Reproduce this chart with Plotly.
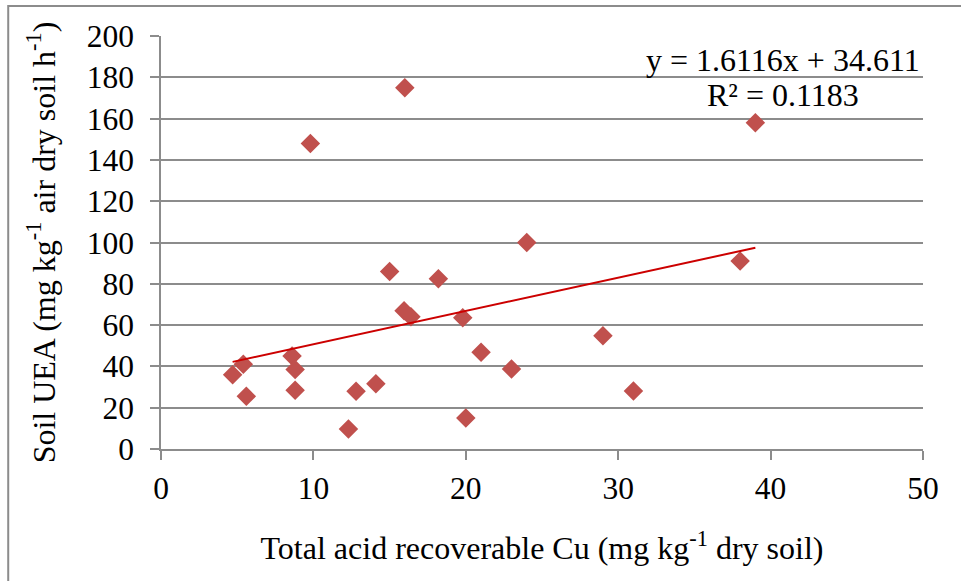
import plotly.graph_objects as go

# Data
cu_total = [4.7, 5.4, 5.6, 8.6, 8.8, 8.8, 9.8, 12.3, 12.8, 14.1, 15.0, 15.95,
            16.0, 16.4, 18.2, 19.8, 20.0, 21.0, 23.0, 24.0, 29.0, 31.0, 38.0, 39.0]
soil_uea = [36.0, 41.0, 25.5, 45.0, 38.5, 28.5, 148.0, 9.7, 28.0, 31.6, 86.0, 67.0,
            175.0, 64.0, 82.5, 63.5, 15.0, 46.8, 38.7, 100.0, 54.8, 28.1, 91.0, 158.0]

slope = 1.6116
intercept = 34.611
r_squared = 0.1183

x_ticks = [0, 10, 20, 30, 40, 50]
y_ticks = [0, 20, 40, 60, 80, 100, 120, 140, 160, 180, 200]

trend_x = [min(cu_total), max(cu_total)]
trend_y = [slope * v + intercept for v in trend_x]

FONT = "Times New Roman, Liberation Serif, serif"
GRID = "#8c8c8c"

fig = go.Figure()
fig.add_trace(go.Scatter(
    x=cu_total, y=soil_uea, mode="markers",
    marker=dict(symbol="diamond", size=15, color="#C0504D", line=dict(width=0)),
    showlegend=False, hoverinfo="x+y",
))
fig.add_trace(go.Scatter(
    x=trend_x, y=trend_y, mode="lines",
    line=dict(color="#CC0000", width=2),
    showlegend=False, hoverinfo="skip",
))

fig.add_annotation(x=40.8, y=188.4, xref="x", yref="y",
                   text=f"y = {slope}x + {intercept}", showarrow=False,
                   font=dict(family=FONT, size=32, color="black"),
                   xanchor="center", yanchor="middle")
fig.add_annotation(x=40.8, y=171.6, xref="x", yref="y",
                   text=f"R² = {r_squared}", showarrow=False,
                   font=dict(family=FONT, size=32, color="black"),
                   xanchor="center", yanchor="middle")

# outer chart border (left and top visible in the reference)
fig.add_shape(type="rect", xref="paper", yref="paper",
              x0=-0.2005, y0=-0.5, x1=1.2, y1=1.0725,
              line=dict(color="#8c8c8c", width=2), fillcolor="rgba(0,0,0,0)",
              layer="below")

fig.update_layout(
    width=961, height=581,
    margin=dict(l=161, r=38, t=36, b=132, pad=0),
    paper_bgcolor="white", plot_bgcolor="white",
    font=dict(family=FONT, size=32, color="black"),
    xaxis=dict(
        range=[0, 50], tickvals=x_ticks, ticktext=[str(v) for v in x_ticks],
        showgrid=False, zeroline=False,
        showline=True, linecolor=GRID, linewidth=1.5,
        ticks="outside", ticklen=9, tickcolor=GRID, tickwidth=1.5,
        ticklabelstandoff=1,
        tickfont=dict(family=FONT, size=31.5, color="black"),
        title=dict(text="Total acid recoverable Cu (mg kg<sup>-1</sup> dry soil)",
                   font=dict(family=FONT, size=32, color="black"), standoff=32),
    ),
    yaxis=dict(
        range=[0, 200], tickvals=y_ticks, ticktext=[str(v) for v in y_ticks],
        showgrid=True, gridcolor=GRID, gridwidth=1.5, zeroline=False,
        showline=True, linecolor=GRID, linewidth=1.5,
        ticks="outside", ticklen=9, tickcolor=GRID, tickwidth=1.5,
        ticklabelstandoff=10,
        tickfont=dict(family=FONT, size=31.5, color="black"),
        title=dict(text="Soil UEA (mg kg<sup>-1</sup> air dry soil h<sup>-1</sup>)",
                   font=dict(family=FONT, size=32, color="black"), standoff=22),
    ),
)

fig.write_html("out.html")
